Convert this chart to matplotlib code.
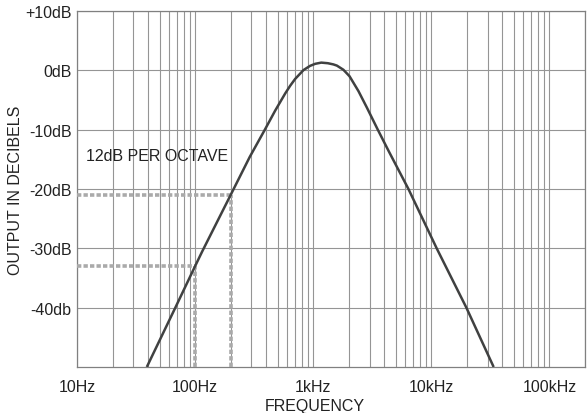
import matplotlib
matplotlib.use("Agg")
import matplotlib.pyplot as plt
from matplotlib.ticker import LogLocator, NullFormatter, FixedLocator

# Band-pass response read point by point (Hz, dB)
freq_hz = [39, 68, 100, 115, 200, 290, 392, 476, 579, 638, 703, 828, 940, 1040,
           1170, 1330, 1480, 1585, 1800, 2030, 2415, 2850, 3520, 4350, 6400,
           11100, 19800, 33700]
level_db = [-50, -40, -33, -30.5, -21, -14.6, -9.9, -6.8, -3.9, -2.6, -1.45, 0.05, 0.75, 1.1,
            1.3, 1.2, 1.0, 0.8, 0.1, -1.0, -3.5, -6.3, -10, -13.6, -20,
            -30, -40, -50]

# Octave reference markers on the low-frequency slope
marker_freqs = [100, 200]
marker_levels = [-33, -21]

x_ticks = [10, 100, 1000, 10000, 100000]
x_labels = ["10Hz", "100Hz", "1kHz", "10kHz", "100kHz"]
y_ticks = [10, 0, -10, -20, -30, -40]
y_labels = ["+10dB", "0dB", "-10dB", "-20dB", "-30dB", "-40db"]

plt.rcParams["font.family"] = ["Liberation Sans", "DejaVu Sans"]
FS = 11.5
grid_col = "#959595"
text_col = "#222222"

fig = plt.figure(figsize=(5.87, 4.14), dpi=100)
ax = fig.add_axes([77 / 587, 1 - 368 / 414, (585 - 77) / 587, 356 / 414])

ax.set_xscale("log")
ax.set_xlim(10, 200000)
ax.set_ylim(-50, 10)

ax.xaxis.set_major_locator(FixedLocator(x_ticks))
ax.set_xticklabels(x_labels, fontsize=FS)
ax.xaxis.set_minor_locator(LogLocator(base=10, subs=range(2, 10), numticks=20))
ax.xaxis.set_minor_formatter(NullFormatter())
ax.set_yticks(y_ticks)
ax.set_yticklabels(y_labels, fontsize=FS)

ax.tick_params(axis="both", which="both", length=0, colors=text_col)
ax.tick_params(axis="x", pad=9)
ax.tick_params(axis="y", pad=4)

ax.grid(True, which="major", axis="both", color=grid_col, lw=0.8)
ax.grid(True, which="minor", axis="x", color=grid_col, lw=0.8)
for s in ax.spines.values():
    s.set_color("#808080")
    s.set_linewidth(0.9)

# stippled guides from the axes to the curve
for f, lvl in zip(marker_freqs, marker_levels):
    ax.plot([10, f], [lvl, lvl], color="#aaaaaa", lw=2.6,
            linestyle=(0, (1.2, 0.6)), solid_capstyle="butt", zorder=3)
    ax.plot([f, f], [-50, lvl], color="#aaaaaa", lw=2.6,
            linestyle=(0, (1.2, 0.6)), solid_capstyle="butt", zorder=3)

ax.plot(freq_hz, level_db, color="#404141", lw=1.8, zorder=4,
        solid_joinstyle="round", solid_capstyle="butt")

ax.text(11.9, -14.4, "12dB PER OCTAVE", fontsize=FS, color=text_col,
        ha="left", va="center", zorder=5)

fig.text(16 / 587, 1 - 190 / 414, "OUTPUT IN DECIBELS", rotation=90,
         fontsize=FS, color=text_col, ha="center", va="center")
fig.text(315 / 587, 1 - 407 / 414, "FREQUENCY", fontsize=FS, color=text_col,
         ha="center", va="center")

fig.savefig("out.png", dpi=100)
